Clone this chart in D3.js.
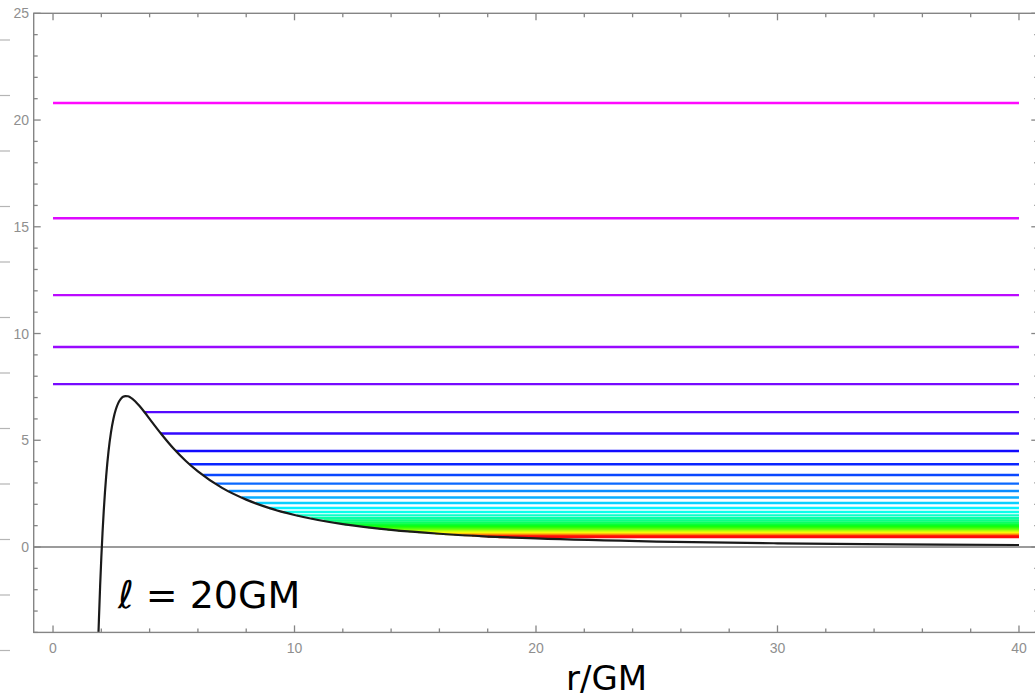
<!doctype html>
<html>
  <head>
    <script src="https://cdnjs.cloudflare.com/ajax/libs/d3/7.8.5/d3.min.js"></script>
    <style>
      body { margin: 0; background: #fff; }
      svg { display: block; }
    </style>
  </head>
  <body>
    <svg width="1035" height="700"></svg>
    <script>
        // effective potential curve
        var rVals = [1.88, 1.9, 1.95, 2.0, 2.05, 2.1, 2.15, 2.2, 2.3, 2.4, 2.5, 2.6, 2.7, 2.8, 2.9, 3.0,
                     3.1, 3.2, 3.4, 3.6, 3.8, 4.0, 4.5, 5, 5.5, 6, 7, 8, 9, 10, 12, 14, 16, 18, 20, 25, 30, 35, 40];
        var vVals = [-4.1, -3.43, -1.85, -0.5, 0.67, 1.68, 2.55, 3.30, 4.50, 5.37, 6.0, 6.44, 6.74, 6.93, 7.04, 7.07,
                     7.06, 7.01, 6.83, 6.58, 6.30, 6.0, 5.27, 4.6, 4.03, 3.54, 2.77, 2.22, 1.81, 1.5, 1.07, 0.80, 0.62, 0.49, 0.40, 0.254, 0.174, 0.125, 0.094];

        // energy levels (top to bottom)
        var energies = [20.8, 15.4, 11.8, 9.37, 7.63, 6.32, 5.32, 4.5, 3.88, 3.37, 2.97, 2.62, 2.32, 2.06,
                        1.83, 1.64, 1.48, 1.35, 1.24, 1.14, 1.06, 0.99, 0.93, 0.87, 0.82, 0.775, 0.735,
                        0.70, 0.665, 0.635, 0.605, 0.58, 0.555, 0.532, 0.51, 0.49, 0.47];

        var xTicks = [0, 10, 20, 30, 40];
        var yTicks = [0, 5, 10, 15, 20, 25];
        var rMax = 40;

        var svg = d3.select("svg");
        var frameColor = "#858585";

        var xScale = d3.scaleLinear().domain([-0.8, 40.8]).range([33.7, 1038.3]);
        var yScale = d3.scaleLinear().domain([-4, 25]).range([632.4, 13.3]);

        var x0 = xScale.range()[0], x1 = xScale.range()[1];
        var y0 = yScale.range()[0], y1 = yScale.range()[1];

        // stray ticks from the neighbouring figure on the far left
        svg.append("g").selectAll("line")
            .data(d3.range(12))
            .enter().append("line")
            .attr("x1", 0).attr("x2", 10)
            .attr("y1", d => 40 + d * 55.5).attr("y2", d => 40 + d * 55.5)
            .attr("stroke", "#b5b5b5").attr("stroke-width", 1.2);

        svg.append("defs").append("clipPath").attr("id", "plotclip")
            .append("rect").attr("x", x0).attr("y", y1).attr("width", x1 - x0).attr("height", y0 - y1);

        var plot = svg.append("g").attr("clip-path", "url(#plotclip)");

        // zero axis
        plot.append("line")
            .attr("x1", x0).attr("x2", x1)
            .attr("y1", yScale(0)).attr("y2", yScale(0))
            .attr("stroke", "#7a7a7a").attr("stroke-width", 1.3);

        // start of each level: where it meets the falling side of the curve
        var peakIdx = d3.maxIndex(vVals);
        function startR(e) {
            if (e >= vVals[peakIdx]) return 0;
            for (var i = peakIdx; i < vVals.length - 1; i++) {
                if (vVals[i] >= e && vVals[i + 1] <= e) {
                    var t = (vVals[i] - e) / (vVals[i] - vVals[i + 1]);
                    return rVals[i] + t * (rVals[i + 1] - rVals[i]);
                }
            }
            return rMax;
        }

        var hue = d3.scaleLinear().domain([0, energies.length - 1]).range([300, 0]);

        plot.append("g").selectAll("line")
            .data(energies)
            .enter().append("line")
            .attr("x1", d => xScale(startR(d)))
            .attr("x2", xScale(rMax))
            .attr("y1", d => yScale(d))
            .attr("y2", d => yScale(d))
            .attr("stroke", (d, i) => d3.hsl(hue(i), 1, 0.52))
            .attr("stroke-width", 2.4);

        var curve = d3.line()
            .x(d => xScale(d[0]))
            .y(d => yScale(d[1]))
            .curve(d3.curveMonotoneX);

        plot.append("path")
            .datum(d3.zip(rVals, vVals))
            .attr("d", curve)
            .attr("fill", "none")
            .attr("stroke", "#1a1a1a")
            .attr("stroke-width", 2.2);

        // frame
        svg.append("rect")
            .attr("x", x0).attr("y", y1)
            .attr("width", x1 - x0).attr("height", y0 - y1)
            .attr("fill", "none").attr("stroke", frameColor).attr("stroke-width", 1.4);

        var xMinor = d3.range(0, 41, 2).filter(d => d % 10 !== 0);
        var yMinor = d3.range(-4, 26, 1).filter(d => d % 5 !== 0);

        var ticks = svg.append("g").attr("stroke", frameColor).attr("stroke-width", 1.3);

        // bottom and top ticks
        [[y0, -1], [y1, 1]].forEach(function (s) {
            ticks.selectAll(null).data(xTicks).enter().append("line")
                .attr("x1", d => xScale(d)).attr("x2", d => xScale(d))
                .attr("y1", s[0]).attr("y2", d => s[0] + s[1] * 7);
            ticks.selectAll(null).data(xMinor).enter().append("line")
                .attr("x1", d => xScale(d)).attr("x2", d => xScale(d))
                .attr("y1", s[0]).attr("y2", d => s[0] + s[1] * 4);
        });

        // left and right ticks
        [[x0, 1], [x1, -1]].forEach(function (s) {
            ticks.selectAll(null).data(yTicks).enter().append("line")
                .attr("y1", d => yScale(d)).attr("y2", d => yScale(d))
                .attr("x1", s[0]).attr("x2", d => s[0] + s[1] * 7);
            ticks.selectAll(null).data(yMinor).enter().append("line")
                .attr("y1", d => yScale(d)).attr("y2", d => yScale(d))
                .attr("x1", s[0]).attr("x2", d => s[0] + s[1] * 4);
        });

        var labels = svg.append("g")
            .attr("font-family", "Liberation Sans, Arial, sans-serif")
            .attr("font-size", 14)
            .attr("fill", "#8f8f8f");

        labels.selectAll(null).data(xTicks).enter().append("text")
            .attr("x", d => xScale(d)).attr("y", 653)
            .attr("text-anchor", "middle")
            .text(d => d);

        labels.selectAll(null).data(yTicks).enter().append("text")
            .attr("x", 29).attr("y", d => yScale(d) + 5)
            .attr("text-anchor", "end")
            .text(d => d);

        // handwritten notes
        var notes = svg.append("g")
            .attr("font-family", "DejaVu Sans, sans-serif")
            .attr("fill", "#000");

        notes.append("text")
            .attr("x", 118).attr("y", 608)
            .attr("font-size", 38)
            .text("ℓ = 20GM");

        notes.append("text")
            .attr("x", 566).attr("y", 690)
            .attr("font-size", 34)
            .text("r/GM");
    </script>
  </body>
</html>
